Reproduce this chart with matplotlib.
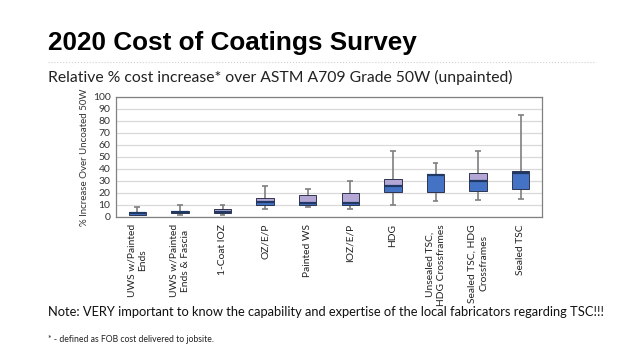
import matplotlib.pyplot as plt
import numpy as np

# Coating systems (x categories)
categories = [
    "UWS w/Painted\nEnds",
    "UWS w/Painted\nEnds & Fascia",
    "1-Coat IOZ",
    "OZ/E/P",
    "Painted WS",
    "IOZ/E/P",
    "HDG",
    "Unsealed TSC,\nHDG Crossframes",
    "Sealed TSC, HDG\nCrossframes",
    "Sealed TSC",
]

# Box plot statistics (% increase over uncoated 50W)
mins = [1.5, 2, 2, 7, 8, 7, 10, 13, 14.5, 15]
q1 = [2, 3, 3, 10, 10, 10, 20.5, 20.5, 21.5, 23]
medians = [3.5, 4.5, 4, 12.5, 12, 12, 26, 35, 30, 37]
q3 = [4, 5, 6.5, 16, 18, 20, 31.5, 35.5, 36.5, 38]
maxs = [8, 10, 10, 26, 23, 30, 55, 45, 55, 85]

yticks = list(range(0, 101, 10))

blue = "#4472C4"
purple = "#B4A7D6"
navy = "#1F3864"
edge = "#2F3550"

fig = plt.figure(figsize=(6.24, 3.51), dpi=100)
fig.patch.set_facecolor("white")

# Slide title and subtitle
fig.text(48 / 624, 1 - 43 / 351, "2020 Cost of Coatings Survey", fontsize=18.8,
         fontweight="bold", family="Liberation Sans", va="center", ha="left")
fig.add_artist(plt.Line2D([48 / 624, 596 / 624], [1 - 62 / 351, 1 - 62 / 351],
                          color="#d0d0d0", lw=0.8, ls=":"))
fig.text(48 / 624, 1 - 77 / 351,
         "Relative % cost increase* over ASTM A709 Grade 50W (unpainted)",
         fontsize=11.3, family="Lato", va="center", ha="left", color="#222222")

ax = fig.add_axes([116 / 624, 1 - 217 / 351, 426 / 624, 120 / 351])
x = np.arange(len(categories))
w = 0.41

# whiskers behind the boxes
ax.vlines(x, mins, maxs, color="#7f7f7f", lw=1.2, zorder=2)
ax.hlines(mins, x - 0.07, x + 0.07, color="#7f7f7f", lw=1.2, zorder=2)
ax.hlines(maxs, x - 0.07, x + 0.07, color="#7f7f7f", lw=1.2, zorder=2)

lower = np.array(medians) - np.array(q1)
upper = np.array(q3) - np.array(medians)
ax.bar(x, lower, w, bottom=q1, color=blue, edgecolor=edge, lw=0.7, zorder=3)
ax.bar(x, upper, w, bottom=medians, color=purple, edgecolor=edge, lw=0.7, zorder=3)
ax.hlines(medians, x - w / 2, x + w / 2, color=navy, lw=1.6, zorder=4)

ax.set_xlim(-0.5, len(categories) - 0.5)
ax.set_ylim(0, 100)
ax.set_yticks(yticks)
ax.set_yticklabels([str(t) for t in yticks], fontsize=7.5, family="Lato",
                   color="#333333")
ax.yaxis.grid(True, color="#d9d9d9", lw=0.9)
ax.set_axisbelow(True)
ax.tick_params(axis="y", length=0, pad=4)
ax.tick_params(axis="x", length=0, pad=5)
ax.set_xticks(x)
ax.set_xticklabels(categories, rotation=90, fontsize=7.4, family="Lato",
                   va="top", ha="center", multialignment="center",
                   color="#222222", linespacing=1.3)
for s in ax.spines.values():
    s.set_color("#808080")
    s.set_linewidth(0.9)

ax.set_ylabel("% Increase Over Uncoated 50W", fontsize=7, family="Lato",
              color="#333333", labelpad=3)

fig.text(48 / 624, 1 - 312 / 351,
         "Note: VERY important to know the capability and expertise of the local fabricators regarding TSC!!!",
         fontsize=9.3, family="Lato", va="center", ha="left", color="#111111")
fig.text(48 / 624, 1 - 340 / 351, "* - defined as FOB cost delivered to jobsite.",
         fontsize=6.2, family="Lato", va="center", ha="left", color="#222222")

fig.savefig("out.png", dpi=100)
